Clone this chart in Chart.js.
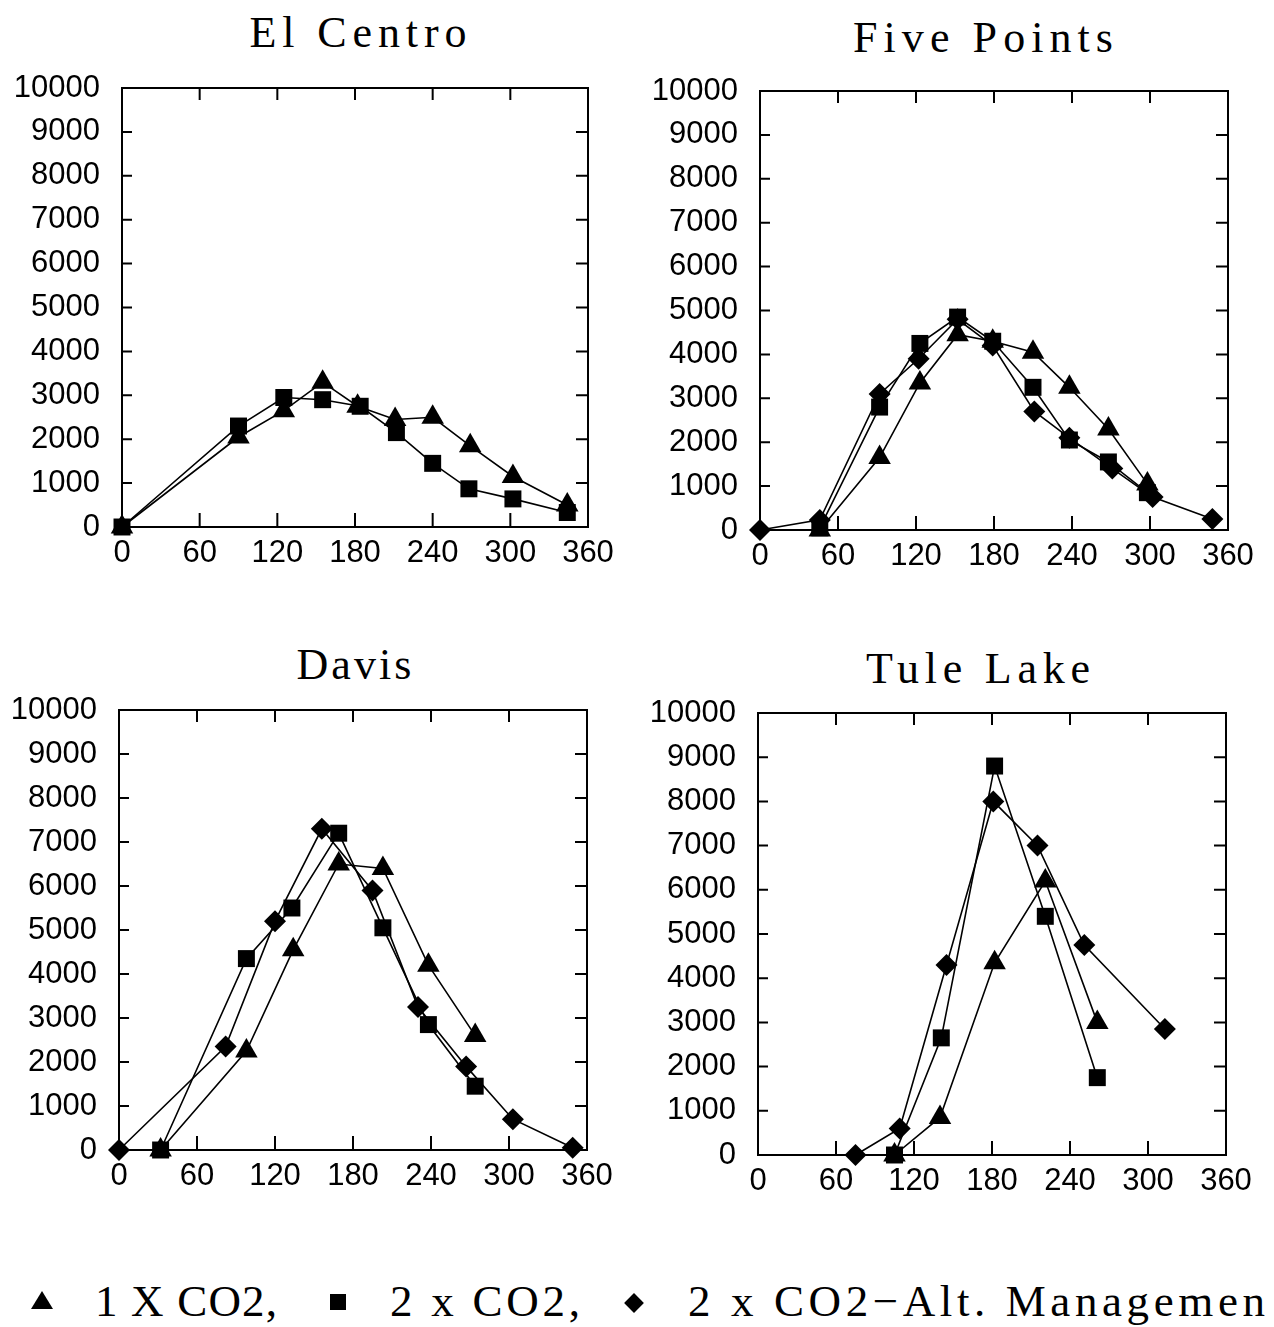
<!DOCTYPE html>
<html>
<head>
<meta charset="utf-8">
<title>Seasonal curves</title>
<script src="https://cdn.jsdelivr.net/npm/chart.js@4.4.1/dist/chart.umd.min.js"></script>
<style>
    body { margin: 0; background: #fff; width: 1274px; height: 1327px; position: relative; overflow: hidden; }
    canvas { position: absolute; }
    .title, .leg { position: absolute; font-family: 'Liberation Serif', serif; color: #000; white-space: nowrap; line-height: 44px; }
    .title { font-size: 44px; }
    .leg { font-size: 45px; top: 1279px; }
    .mk { position: absolute; background: #000; }
</style>
</head>
<body>
<div class="title" id="t1" data-cx="358" data-w="217" style="top:11px">El Centro</div>
<div class="title" id="t2" data-cx="983" data-w="260" style="top:16px">Five Points</div>
<div class="title" id="t3" data-cx="354" data-w="115" style="top:643px">Davis</div>
<div class="title" id="t4" data-cx="978" data-w="224" style="top:647px">Tule Lake</div>

<canvas id="c1" width="620" height="520" style="left:0;top:70px"></canvas>
<canvas id="c2" width="620" height="520" style="left:640px;top:73px"></canvas>
<canvas id="c3" width="619" height="521" style="left:0;top:692px"></canvas>
<canvas id="c4" width="618" height="523" style="left:640px;top:695px"></canvas>

<!-- legend markers -->
<div style="position:absolute;left:31px;top:1291px;width:0;height:0;border-left:11px solid transparent;border-right:11px solid transparent;border-bottom:18px solid #000"></div>
<div class="mk" style="left:330px;top:1294px;width:16px;height:16px"></div>
<div class="mk" style="left:627px;top:1296px;width:14px;height:14px;transform:rotate(45deg)"></div>
<div class="leg" data-left="95" data-w="182">1 X CO2,</div>
<div class="leg" data-left="390" data-w="190">2 x CO2,</div>
<div class="leg" data-left="688" data-w="577">2 x CO2−Alt. Managemen</div>

<script>
// days after planting (x) and values (y)
const elCentroDays1x = [0, 90, 125, 155, 182, 211, 240, 269, 302, 344];
const elCentro1x     = [0, 2050, 2650, 3300, 2750, 2450, 2500, 1850, 1150, 500];
const elCentroDays2x = [0, 90, 125, 155, 184, 212, 240, 268, 302, 344];
const elCentro2x     = [0, 2300, 2950, 2900, 2750, 2150, 1450, 870, 640, 330];

const fivePtsDays1x  = [46, 92, 123, 152, 179, 210, 238, 268, 298];
const fivePts1x      = [0, 1650, 3350, 4450, 4300, 4050, 3250, 2300, 1050];
const fivePtsDays2x  = [46, 92, 123, 152, 179, 210, 238, 268, 298];
const fivePts2x      = [50, 2800, 4250, 4850, 4300, 3250, 2050, 1550, 850];
const fivePtsDaysAlt = [0, 46, 92, 122, 152, 179, 211, 238, 271, 302, 348];
const fivePtsAlt     = [0, 230, 3100, 3900, 4800, 4200, 2700, 2100, 1400, 750, 250];

const davisDays1x    = [32, 98, 134, 169, 203, 238, 274];
const davis1x        = [0, 2250, 4550, 6500, 6400, 4200, 2600];
const davisDays2x    = [32, 98, 133, 169, 203, 238, 274];
const davis2x        = [0, 4350, 5500, 7200, 5050, 2850, 1450];
const davisDaysAlt   = [0, 82, 120, 156, 195, 230, 267, 303, 349];
const davisAlt       = [0, 2350, 5200, 7300, 5900, 3250, 1900, 700, 50];

const tuleDays1x     = [105, 140, 182, 221, 261];
const tule1x         = [0, 850, 4350, 6200, 3000];
const tuleDays2x     = [105, 141, 182, 221, 261];
const tule2x         = [0, 2650, 8800, 5400, 1750];
const tuleDaysAlt    = [75, 109, 145, 181, 215, 251, 313];
const tuleAlt        = [0, 600, 4300, 8000, 7000, 4750, 2850];

const xTicks = [0, 60, 120, 180, 240, 300, 360];
const yTicks = [0, 1000, 2000, 3000, 4000, 5000, 6000, 7000, 8000, 9000, 10000];

// frame + inward ticks on all four sides
const boxTicks = {
    id: 'boxTicks',
    beforeDatasetsDraw(chart) {
        const { ctx, chartArea: a, scales: { x, y } } = chart;
        ctx.save();
        ctx.strokeStyle = '#000';
        ctx.lineWidth = 2;
        ctx.strokeRect(a.left, a.top, a.right - a.left, a.bottom - a.top);
        ctx.beginPath();
        x.ticks.forEach(t => {
            const px = x.getPixelForValue(t.value);
            if (px <= a.left + 1 || px >= a.right - 1) return;
            ctx.moveTo(px, a.bottom); ctx.lineTo(px, a.bottom - 14);
            ctx.moveTo(px, a.top); ctx.lineTo(px, a.top + 12);
        });
        y.ticks.forEach(t => {
            const py = y.getPixelForValue(t.value);
            if (py <= a.top + 1 || py >= a.bottom - 1) return;
            ctx.moveTo(a.left, py); ctx.lineTo(a.left + 10, py);
            ctx.moveTo(a.right, py); ctx.lineTo(a.right - 12, py);
        });
        ctx.stroke();
        ctx.restore();
    }
};

const tickFont = { family: "'Liberation Sans', Arial, sans-serif", size: 31 };

function series(days, vals, style, r) {
    return {
        data: days.map((d, i) => ({ x: d, y: vals[i] })),
        showLine: true,
        borderColor: '#000',
        borderWidth: 1.6,
        backgroundColor: '#000',
        pointStyle: style,
        pointRadius: r,
        pointHoverRadius: r,
        pointBorderWidth: 0,
        clip: false
    };
}

function makePanel(id, yWidth, datasets) {
    return new Chart(document.getElementById(id), {
        type: 'scatter',
        data: { datasets: datasets },
        options: {
            responsive: false,
            animation: false,
            devicePixelRatio: 1,
            layout: { padding: { top: 18, right: 32, left: 0, bottom: 0 } },
            plugins: { legend: { display: false }, tooltip: { enabled: false } },
            scales: {
                x: {
                    type: 'linear', min: 0, max: 360,
                    afterBuildTicks: s => { s.ticks = xTicks.map(v => ({ value: v })); },
                    ticks: { color: '#000', font: tickFont, padding: 0, maxRotation: 0, autoSkip: false,
                             callback: v => String(v) },
                    grid: { display: false },
                    border: { display: false },
                    // fixed box: label overhang is covered by the layout padding
                    afterFit: s => { s.height = 63; s.paddingLeft = 0; s.paddingRight = 0; }
                },
                y: {
                    min: 0, max: 10000,
                    afterBuildTicks: s => { s.ticks = yTicks.map(v => ({ value: v })); },
                    ticks: { color: '#000', font: tickFont, padding: 14, autoSkip: false,
                             callback: v => String(v) },
                    grid: { display: false },
                    border: { display: false },
                    afterFit: s => { s.width = yWidth; s.paddingTop = 0; s.paddingBottom = 0; }
                }
            }
        },
        plugins: [boxTicks]
    });
}

makePanel('c1', 122, [
    series(elCentroDays1x, elCentro1x, 'triangle', 13),
    series(elCentroDays2x, elCentro2x, 'rect', 12)
]);
makePanel('c2', 120, [
    series(fivePtsDays1x, fivePts1x, 'triangle', 13),
    series(fivePtsDays2x, fivePts2x, 'rect', 12),
    series(fivePtsDaysAlt, fivePtsAlt, 'rectRot', 11)
]);
makePanel('c3', 119, [
    series(davisDays1x, davis1x, 'triangle', 13),
    series(davisDays2x, davis2x, 'rect', 12),
    series(davisDaysAlt, davisAlt, 'rectRot', 11)
]);
makePanel('c4', 118, [
    series(tuleDays1x, tule1x, 'triangle', 13),
    series(tuleDays2x, tule2x, 'rect', 12),
    series(tuleDaysAlt, tuleAlt, 'rectRot', 11)
]);

// stretch the wide-spaced typewriter-like text to the widths in the figure
function spread(el) {
    const target = +el.dataset.w;
    const n = el.textContent.length;
    const natural = el.getBoundingClientRect().width;
    const ls = (target - natural) / Math.max(n - 1, 1);
    el.style.letterSpacing = ls + 'px';
    if (el.dataset.cx) el.style.left = (+el.dataset.cx - target / 2) + 'px';
    else el.style.left = el.dataset.left + 'px';
}
document.querySelectorAll('.title, .leg').forEach(spread);
</script>
</body>
</html>
